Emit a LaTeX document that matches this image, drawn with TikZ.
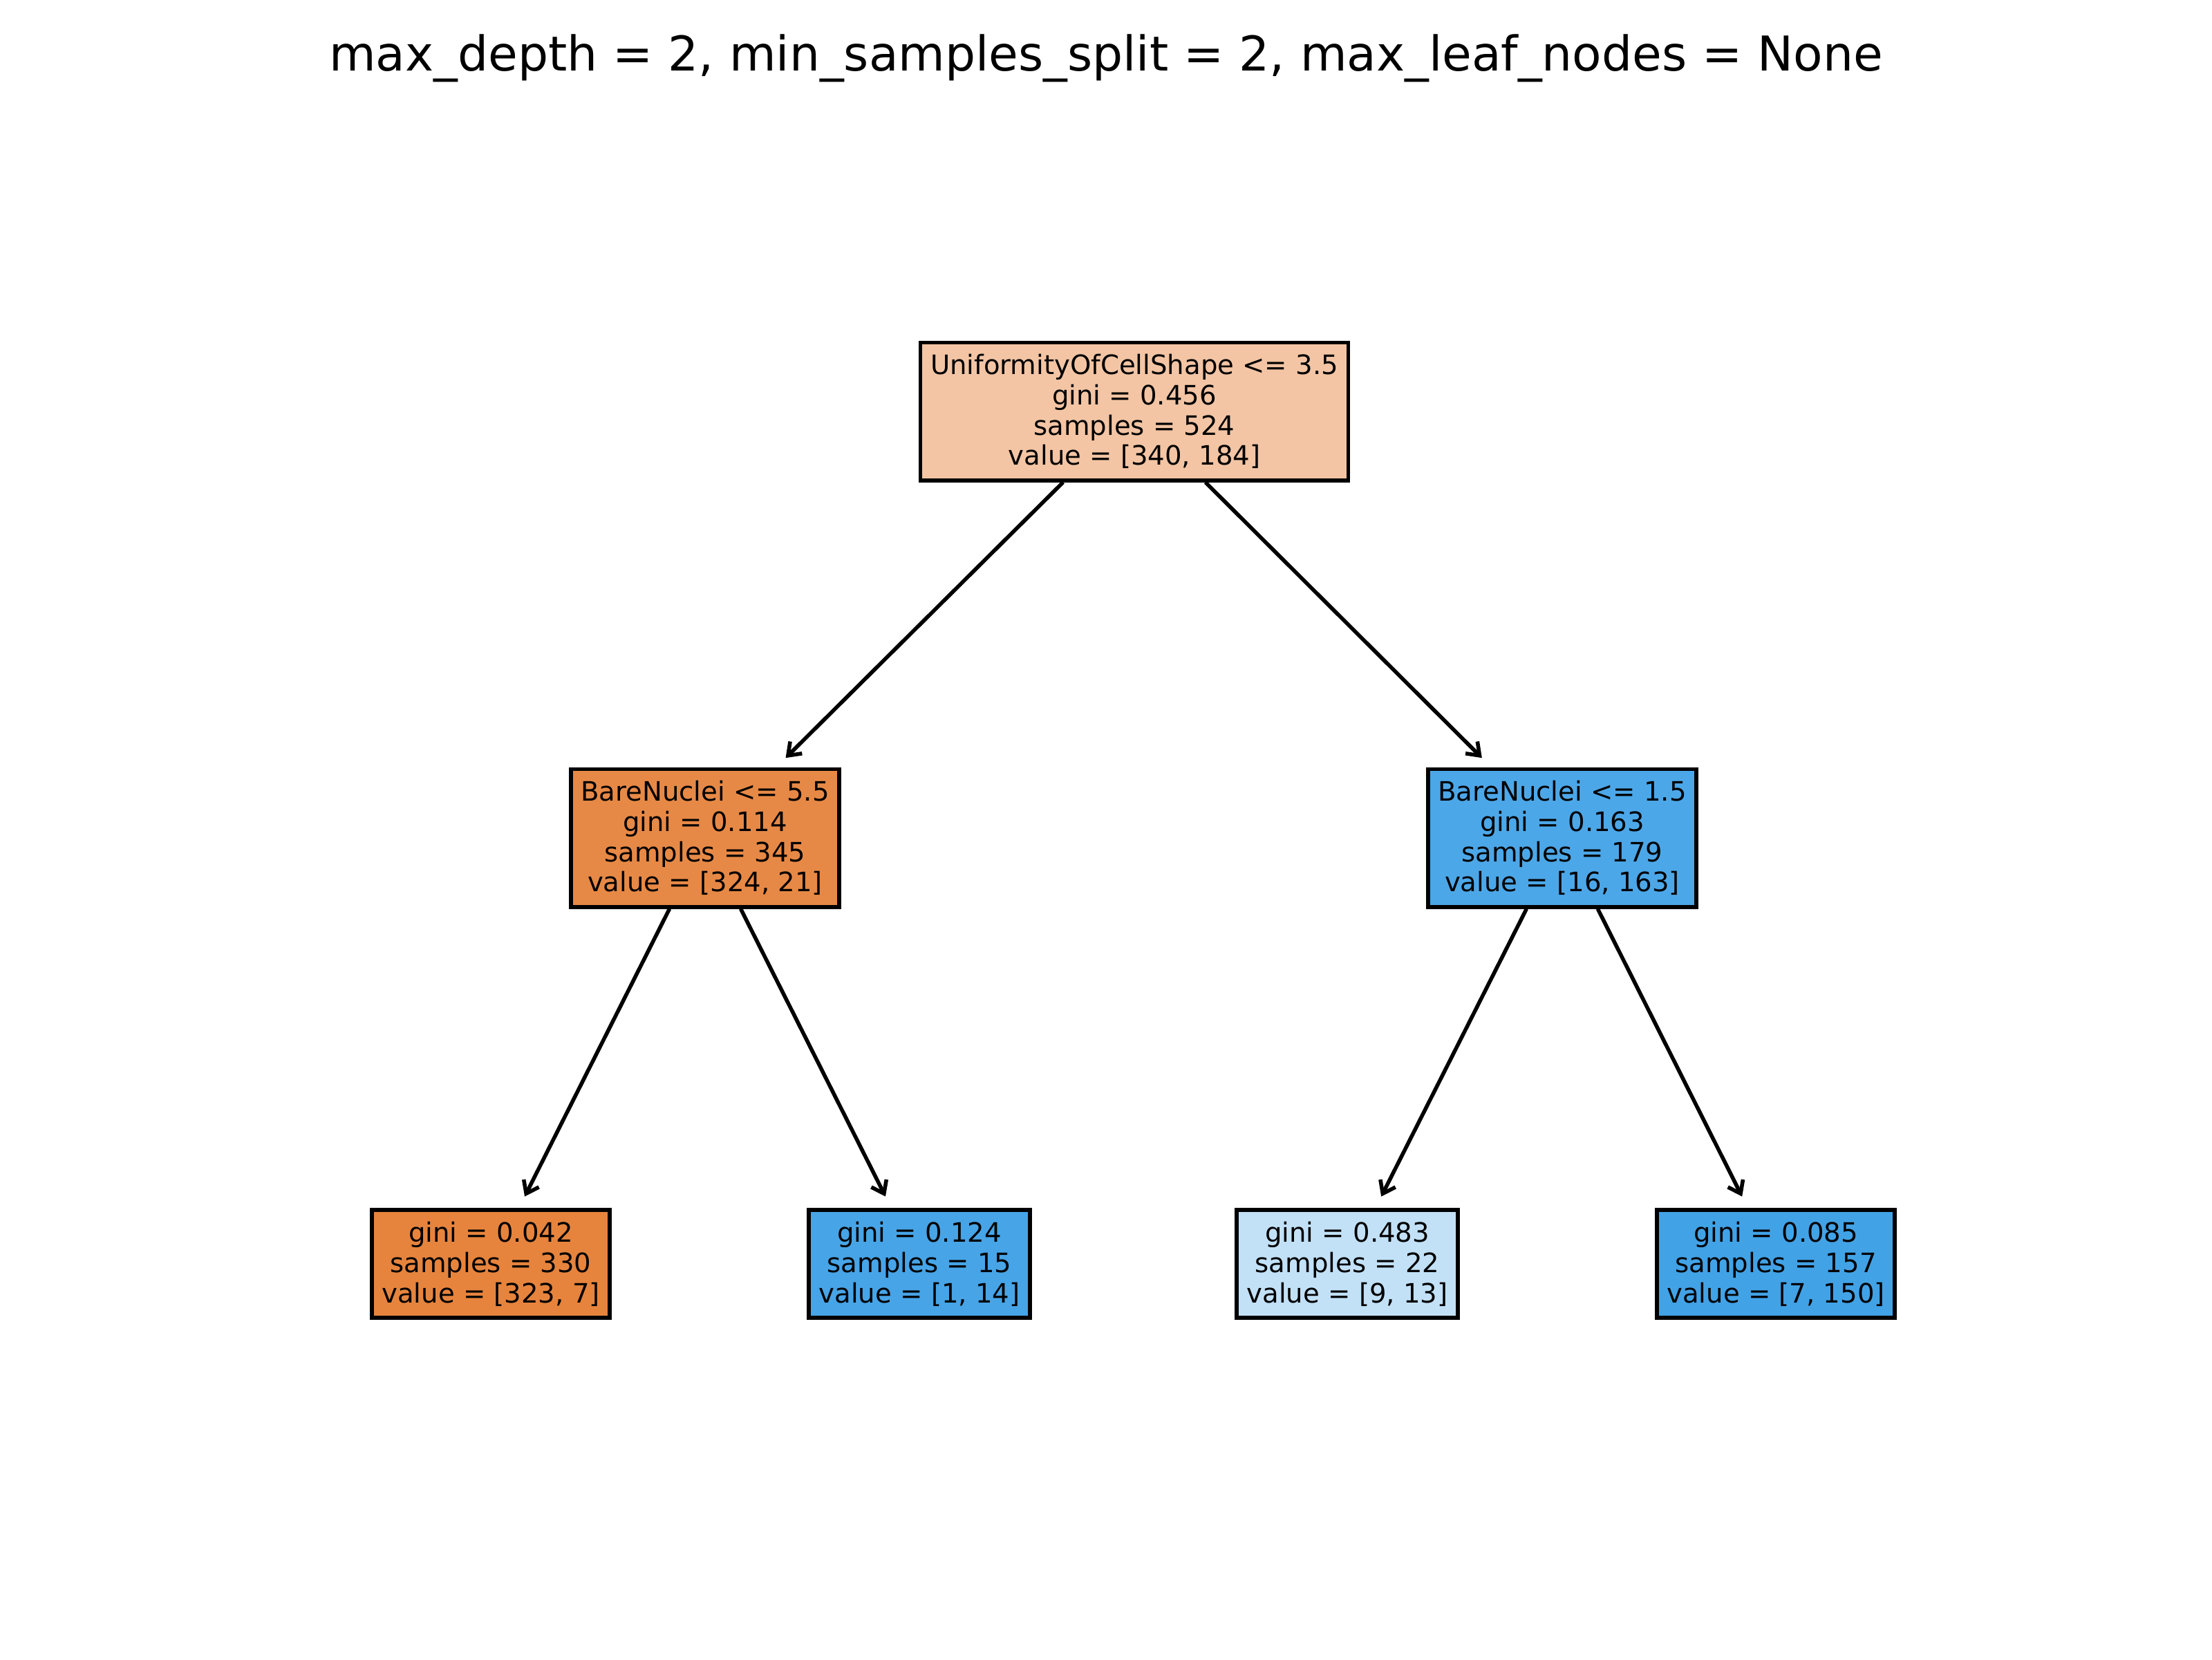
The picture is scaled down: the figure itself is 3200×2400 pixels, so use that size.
\documentclass[tikz,border=0pt]{standalone}
\usepackage{fontspec}
\setmainfont{DejaVu Sans}
\usepackage{tikz}
\usetikzlibrary{arrows.meta}
\usepackage{xcolor}
\definecolor{rootpeach}{RGB}{243,197,164}
\definecolor{splitorange}{RGB}{231,137,70}
\definecolor{splitblue}{RGB}{76,167,232}
\definecolor{leaforange}{RGB}{230,132,61}
\definecolor{leafblue}{RGB}{71,164,231}
\definecolor{paleblue}{RGB}{194,225,247}
\definecolor{deepblue}{RGB}{66,162,230}

\begin{document}
\begin{tikzpicture}[x=0.18pt, y=0.18pt,
  box/.style={draw=black, line width=1pt, align=center,
    font=\fontsize{6.95}{7.9}\selectfont, inner xsep=2.6pt, inner ysep=3pt},
  edge/.style={-{Straight Barb[length=3pt, width=4.4pt]}, line width=1pt, shorten >=3.4pt}]
  \useasboundingbox (0,0) rectangle (3200,-2400);

  \node[anchor=base, font=\fontsize{12.5}{15}\selectfont] (title) at (1600,-102)
    {max\_depth = 2, min\_samples\_split = 2, max\_leaf\_nodes = None};

  % root split
  \node[box, fill=rootpeach] (root) at (1641,-595)
    {UniformityOfCellShape <= 3.5\\gini = 0.456\\samples = 524\\value = [340, 184]};

  % second level
  \node[box, fill=splitorange] (bnleft) at (1020,-1212)
    {BareNuclei <= 5.5\\gini = 0.114\\samples = 345\\value = [324, 21]};
  \node[box, fill=splitblue] (bnright) at (2260,-1212)
    {BareNuclei <= 1.5\\gini = 0.163\\samples = 179\\value = [16, 163]};

  % leaves
  \node[box, fill=leaforange] (leafa) at (710,-1828)
    {gini = 0.042\\samples = 330\\value = [323, 7]};
  \node[box, fill=leafblue] (leafb) at (1330,-1828)
    {gini = 0.124\\samples = 15\\value = [1, 14]};
  \node[box, fill=paleblue] (leafc) at (1949,-1828)
    {gini = 0.483\\samples = 22\\value = [9, 13]};
  \node[box, fill=deepblue] (leafd) at (2569,-1828)
    {gini = 0.085\\samples = 157\\value = [7, 150]};

  \draw[edge] (root) -- (bnleft);
  \draw[edge] (root) -- (bnright);
  \draw[edge] (bnleft) -- (leafa);
  \draw[edge] (bnleft) -- (leafb);
  \draw[edge] (bnright) -- (leafc);
  \draw[edge] (bnright) -- (leafd);
\end{tikzpicture}
\end{document}
